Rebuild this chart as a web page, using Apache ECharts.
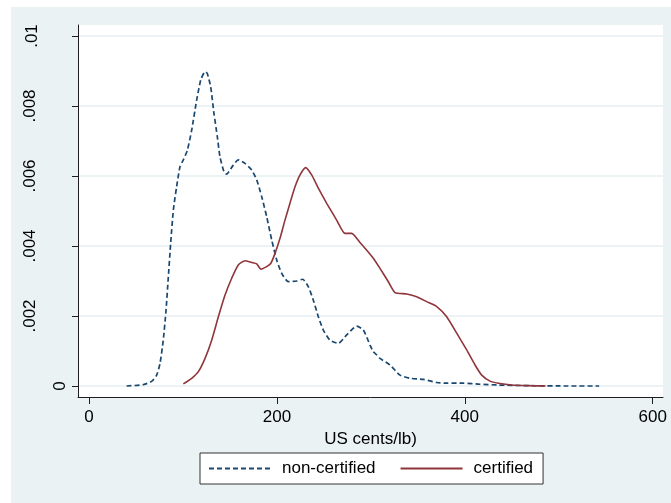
<!DOCTYPE html>
<html>
<head>
<meta charset="utf-8">
<script src="https://cdn.jsdelivr.net/npm/echarts@6/dist/echarts.min.js"></script>
<style>
html,body{margin:0;padding:0;background:#fff;}
#chart{width:671px;height:503px;}
</style>
</head>
<body>
<div id="chart"></div>
<script>
// ---- data ----
const seriesNames = ['non-certified', 'certified'];
const xTicks = [0, 200, 400, 600];
const yTicks = [0, 0.002, 0.004, 0.006, 0.008, 0.01];
const yTickLabels = ['0', '.002', '.004', '.006', '.008', '.01'];
const xTitle = 'US cents/lb)';

const nonCertX = [40, 58, 67, 72, 75.6, 79, 82, 84.4, 87, 89.8, 93.3, 96.9, 100.4, 104.7, 109.3, 114.6, 118.9, 122.4, 124, 125.9, 129.5, 133, 136.6, 139.4, 143.7, 146.5, 148.3, 153.6, 158.9, 166, 173.2, 178.5, 183.8, 189.1, 194.5, 199.8, 205.1, 212.2, 221, 227.4, 233.4, 238.7, 244.1, 249.4, 256.5, 265.4, 274.3, 284.9, 292, 299.1, 302.6, 306.2, 309.7, 320.4, 331, 341.7, 355.8, 370.1, 380.7, 398.4, 416, 434, 470, 510, 543];
const nonCertY = [0.00000, 0.00004, 0.00014, 0.00031, 0.00065, 0.0013, 0.00217, 0.0031, 0.0041, 0.00503, 0.0057, 0.00627, 0.00646, 0.00674, 0.00731, 0.00817, 0.00874, 0.00895, 0.00898, 0.00893, 0.00855, 0.00779, 0.00712, 0.00655, 0.00612, 0.00605, 0.00610, 0.00631, 0.00646, 0.00636, 0.00617, 0.00589, 0.00541, 0.00484, 0.00417, 0.0036, 0.00322, 0.00298, 0.0030, 0.00305, 0.00284, 0.00246, 0.00198, 0.0016, 0.00131, 0.00122, 0.00146, 0.00171, 0.0016, 0.00117, 0.00098, 0.00089, 0.00079, 0.0006, 0.00031, 0.00022, 0.00019, 0.0001, 0.00008, 0.00008, 0.00005, 0.00003, 0.00001, 0.00000, 0.00000];

const certX = [100.4, 109.3, 116.4, 123.5, 130.6, 137.7, 144.8, 151.9, 158.9, 166, 173.2, 178.5, 183.1, 189.1, 193.4, 198, 203.3, 208.6, 213.9, 219.3, 224.6, 230.6, 237, 244.1, 253, 263.6, 272.5, 279.6, 288.4, 295.6, 302.6, 309.7, 318.6, 325.7, 338.2, 348.8, 359.4, 370.1, 380.7, 391.4, 402, 410.9, 418, 426.8, 435.7, 450, 470, 486];
const certY = [0.00006, 0.00022, 0.00041, 0.00079, 0.00131, 0.00198, 0.0026, 0.00308, 0.00346, 0.00358, 0.00353, 0.00349, 0.00334, 0.00341, 0.0035, 0.00379, 0.00422, 0.00474, 0.00522, 0.00569, 0.00603, 0.00624, 0.00603, 0.00565, 0.00522, 0.00474, 0.00436, 0.00436, 0.0041, 0.00388, 0.00365, 0.00336, 0.00298, 0.00267, 0.00263, 0.00255, 0.00241, 0.00227, 0.00198, 0.00151, 0.00103, 0.0006, 0.00031, 0.00014, 0.00008, 0.00003, 0.00001, 0.00000];

// ---- chart ----
const zip = (xs, ys) => xs.map((x, i) => [x, ys[i]]);
const FONT = '"Liberation Sans", Arial, Helvetica, sans-serif';
const NAVY = '#1a476f';
const MAROON = '#90353b';
const AXIS = '#1e1e1e';

const chart = echarts.init(document.getElementById('chart'), null, {renderer: 'canvas'});
chart.setOption({
  animation: false,
  backgroundColor: '#ffffff',
  textStyle: {fontFamily: FONT},
  graphic: [{
    type: 'rect', left: 11, top: 7, z: -100, silent: true,
    shape: {width: 660, height: 496},
    style: {fill: '#eaf2f3'}
  }],
  grid: {
    left: 78, top: 25, width: 585, height: 372,
    show: true, backgroundColor: '#ffffff', borderWidth: 0
  },
  legend: {
    left: 200, top: 453,
    padding: [7, 10, 7, 8],
    itemGap: 24,
    itemWidth: 62, itemHeight: 14,
    backgroundColor: '#ffffff',
    borderColor: '#333333', borderWidth: 1, borderRadius: 0,
    itemStyle: {opacity: 0},
    textStyle: {fontFamily: FONT, fontSize: 17, color: '#000', padding: [0, 0, 0, 6]},
    data: seriesNames
  },
  xAxis: {
    type: 'value',
    min: -11.71, max: 610.96,
    name: xTitle, nameLocation: 'middle', nameGap: 28,
    nameTextStyle: {fontFamily: FONT, fontSize: 17, color: '#000'},
    axisLine: {show: true, onZero: false, lineStyle: {color: AXIS, width: 1}},
    axisTick: {show: true, length: 7, customValues: xTicks, lineStyle: {color: AXIS}},
    axisLabel: {show: true, customValues: xTicks, margin: 12, fontFamily: FONT, fontSize: 17, color: '#000'},
    splitLine: {show: false}
  },
  yAxis: {
    type: 'value',
    min: -0.000314, max: 0.010314,
    axisLine: {show: true, onZero: false, lineStyle: {color: AXIS, width: 1}},
    axisTick: {show: true, length: 6, customValues: yTicks, lineStyle: {color: AXIS}},
    axisLabel: {
      show: true, customValues: yTicks, rotate: 90, margin: 9,
      fontFamily: FONT, fontSize: 17, color: '#000',
      formatter: function (v) {
        let idx = 0, best = Infinity;
        yTicks.forEach((t, i) => { const d = Math.abs(t - v); if (d < best) { best = d; idx = i; } });
        const lab = yTickLabels[idx];
        if (idx === 0) return '{z|' + lab + '}';
        if (idx === yTicks.length - 1) return '{t|' + lab + '}';
        return '{n|' + lab + '}';
      },
      rich: {
        z: {fontFamily: FONT, fontSize: 17, color: '#000'},
        n: {fontFamily: FONT, fontSize: 17, color: '#000', padding: [0, 0, 30, 0]},
        t: {fontFamily: FONT, fontSize: 17, color: '#000', padding: [0, 0, 28, 0]}
      }
    },
    splitLine: {show: true, lineStyle: {color: '#e6eff1', width: 1.5}}
  },
  series: [
    {
      name: seriesNames[0], type: 'line', data: zip(nonCertX, nonCertY),
      showSymbol: false, symbol: 'none', smooth: 0.2,
      lineStyle: {color: NAVY, width: 1.7, type: [5, 3]},
      itemStyle: {color: NAVY}
    },
    {
      name: seriesNames[1], type: 'line', data: zip(certX, certY),
      showSymbol: false, symbol: 'none', smooth: 0.2,
      lineStyle: {color: MAROON, width: 1.6, type: 'solid'},
      itemStyle: {color: MAROON}
    }
  ]
});
</script>
</body>
</html>
